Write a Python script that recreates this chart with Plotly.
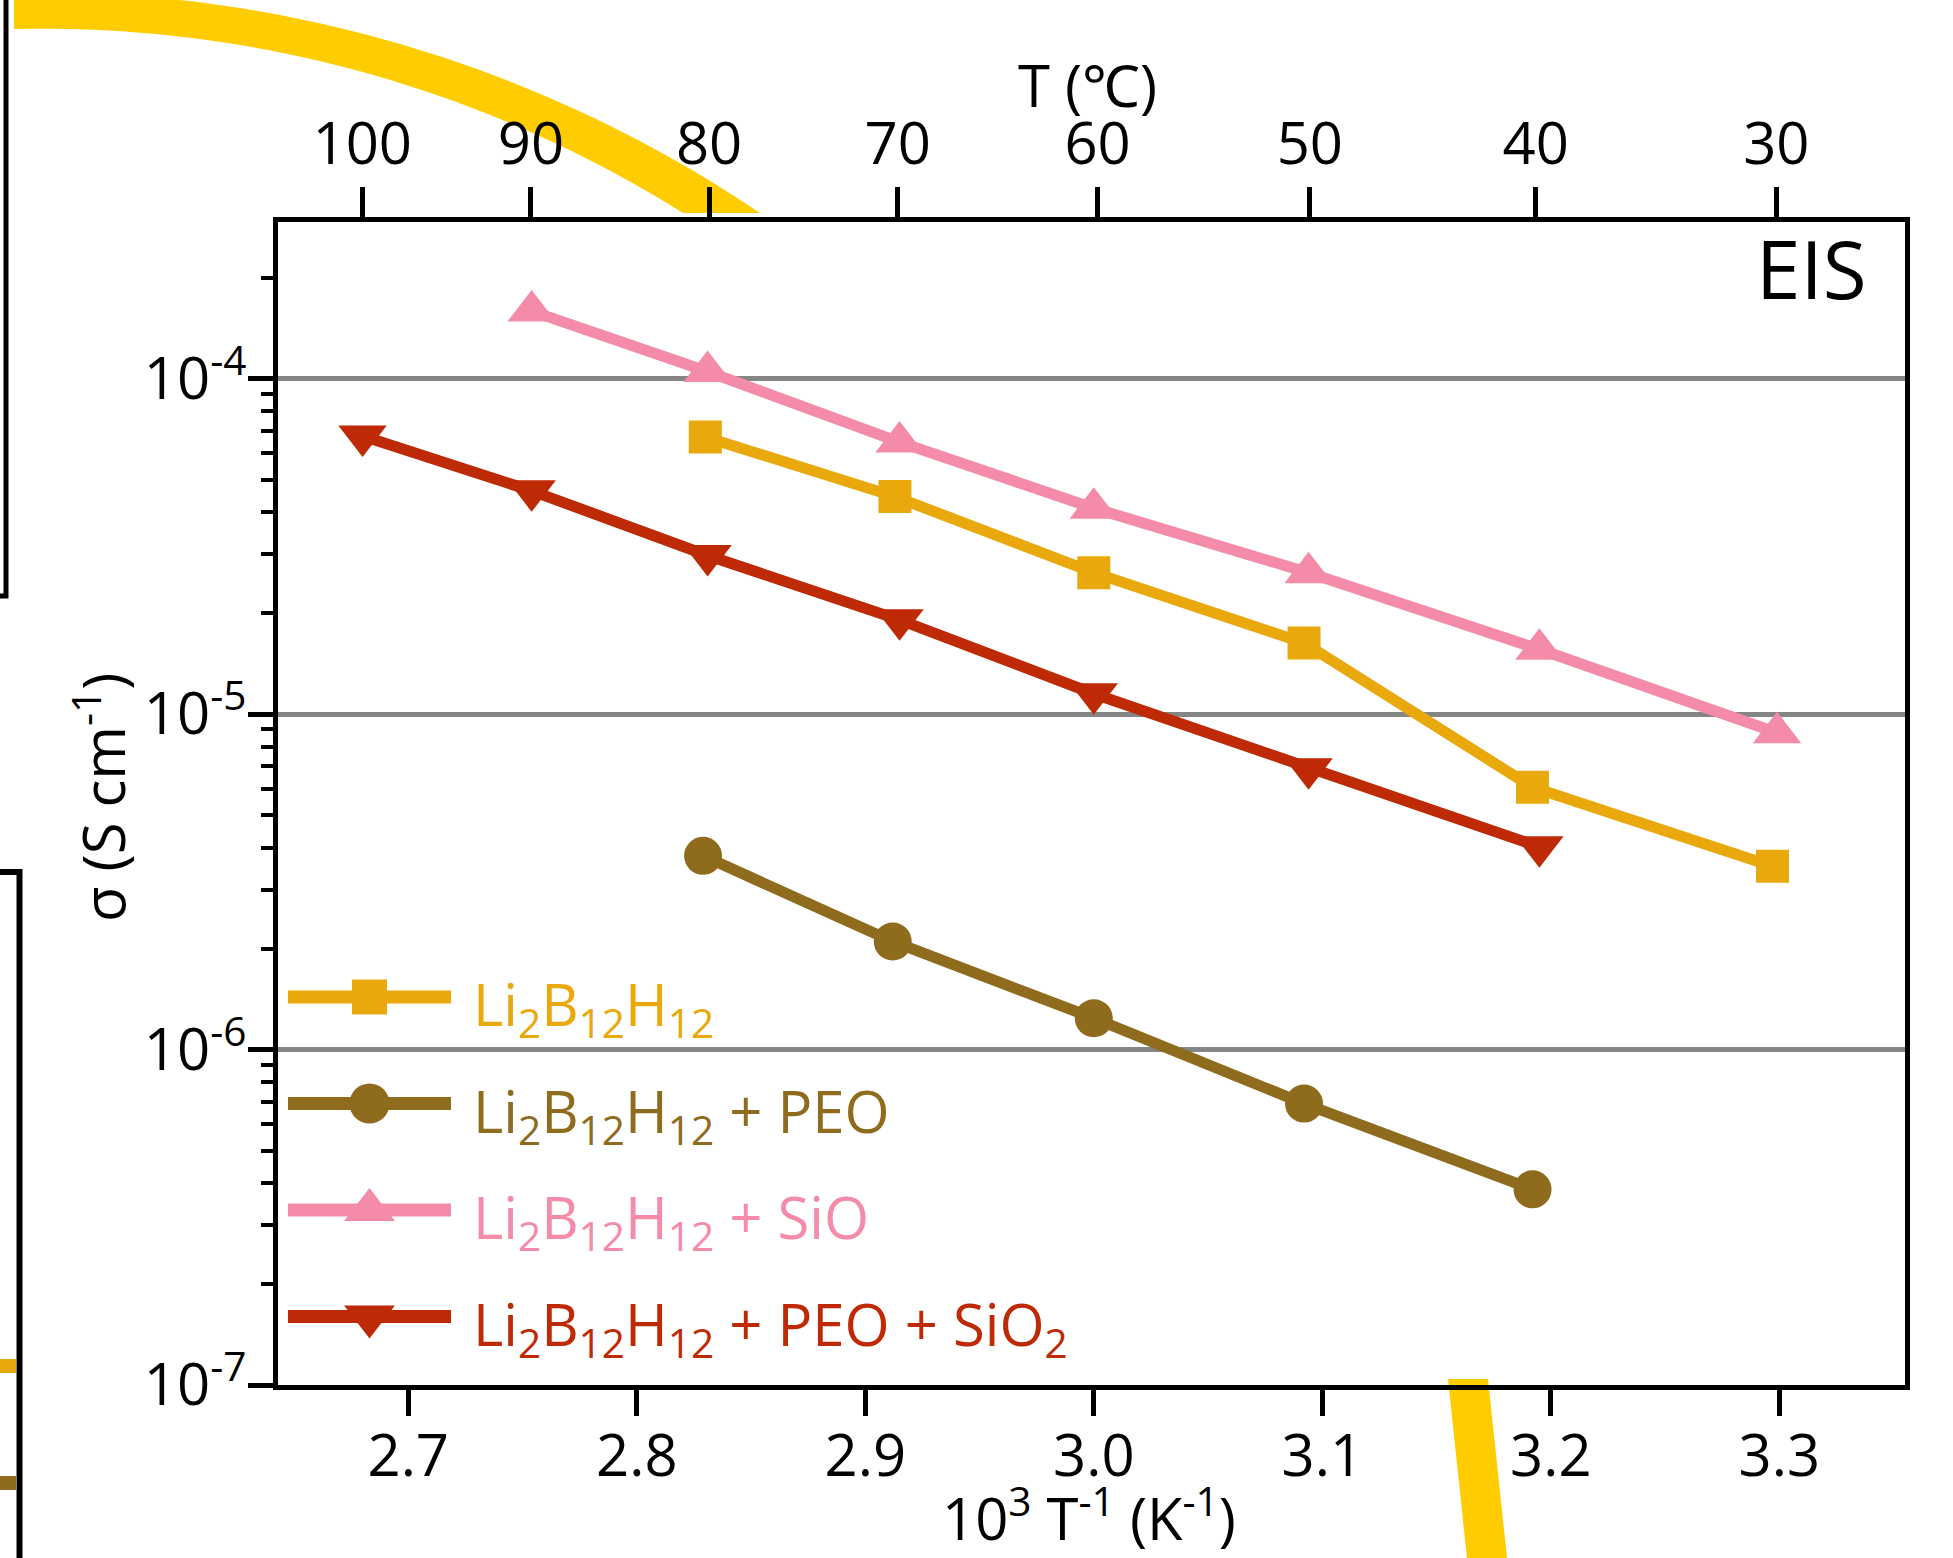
import numpy as np
import plotly.graph_objects as go

# ---------------- data ----------------
T_TOP_C = [100, 90, 80, 70, 60, 50, 40, 30]          # top axis tick labels (deg C)
X_TICKS = [2.7, 2.8, 2.9, 3.0, 3.1, 3.2, 3.3]         # 10^3/T (K^-1)
Y_TICK_EXP = [-7, -6, -5, -4]

x_li = [2.830, 2.913, 3.000, 3.092, 3.192, 3.297]
s_li = [6.70e-5, 4.45e-5, 2.64e-5, 1.63e-5, 6.05e-6, 3.52e-6]

x_peo = [2.829, 2.912, 3.000, 3.092, 3.192]
s_peo = [3.78e-6, 2.10e-6, 1.24e-6, 6.90e-7, 3.83e-7]

x_sio = [2.754, 2.831, 2.915, 3.000, 3.094, 3.195, 3.299]
s_sio = [1.59e-4, 1.05e-4, 6.47e-5, 4.11e-5, 2.64e-5, 1.56e-5, 8.8e-6]

x_peo_sio2 = [2.680, 2.754, 2.831, 2.915, 3.000, 3.094, 3.195]
s_peo_sio2 = [6.75e-5, 4.63e-5, 2.97e-5, 1.91e-5, 1.15e-5, 6.87e-6, 4.02e-6]

BASE = "Li<sub>2</sub>B<sub>12</sub>H<sub>12</sub>"
names = [BASE, BASE + " + PEO", BASE + " + SiO", BASE + " + PEO + SiO<sub>2</sub>"]
colors = ["#E9A80B", "#8F6B1E", "#F48BA9", "#BF2A06"]
symbols = ["square", "circle", "triangle-up", "triangle-down"]
msizes = [33, 38, 42, 42]
xs = [x_li, x_peo, x_sio, x_peo_sio2]
ys = [s_li, s_peo, s_sio, s_peo_sio2]

X_TITLE = "10<sup>3</sup> T<sup>-1</sup> (K<sup>-1</sup>)"
X2_TITLE = "T (\u2103)"
Y_TITLE = "\u03c3 (S cm<sup>-1</sup>)"

# ---------------- layout constants ----------------
FIG_W, FIG_H = 1953, 1558
M_L, M_R, M_T, M_B = 278, 48, 222, 173
PW = FIG_W - M_L - M_R
PH = FIG_H - M_T - M_B
FONT = "Open Sans"
FS = 58
X_RANGE = [2.643, 3.355]
Y_RANGE = [-7, -3.533]


def px(xp):
    return (xp - M_L) / PW


def py(yp):
    return (FIG_H - M_B - yp) / PH


def to_path(pts, close=True):
    s = "M " + " L ".join(f"{px(a):.5f},{py(b):.5f}" for a, b in pts)
    return s + (" Z" if close else "")


def circ3(p1, p2, p3):
    (x1, y1), (x2, y2), (x3, y3) = p1, p2, p3
    A = np.array([[x2 - x1, y2 - y1], [x3 - x2, y3 - y2]], float)
    b = 0.5 * np.array([x2**2 - x1**2 + y2**2 - y1**2, x3**2 - x2**2 + y3**2 - y2**2])
    c = np.linalg.solve(A, b)
    return c, np.hypot(x1 - c[0], y1 - c[1])


def arc_pts(p_start, p_mid, p_end, n=40):
    c, r = circ3(p_start, p_mid, p_end)
    a0 = np.arctan2(p_start[1] - c[1], p_start[0] - c[0])
    a1 = np.arctan2(p_end[1] - c[1], p_end[0] - c[0])
    a = np.linspace(a0, a1, n)
    return list(zip(c[0] + r * np.cos(a), c[1] + r * np.sin(a)))


fig = go.Figure()

for i in range(4):
    fig.add_trace(go.Scatter(
        x=xs[i], y=ys[i], mode="lines+markers", name=names[i],
        line=dict(color=colors[i], width=11),
        marker=dict(symbol=symbols[i], size=msizes[i], color=colors[i], line=dict(width=0)),
        showlegend=False, hoverinfo="skip"))

# dummy trace to register the top temperature axis
fig.add_trace(go.Scatter(x=[], y=[], xaxis="x2", yaxis="y", showlegend=False, hoverinfo="skip"))

# ---------------- custom legend (pixel-unit overlay axes) ----------------
LEG_X0, LEG_X1, LEG_TX = 288, 451, 471
LEG_Y0, LEG_DY = 997, 106.5
annotations = []
for i in range(4):
    yrow = LEG_Y0 + i * LEG_DY
    fig.add_trace(go.Scatter(x=[LEG_X0, LEG_X1], y=[yrow, yrow], mode="lines",
                             line=dict(color=colors[i], width=13),
                             xaxis="x3", yaxis="y3", showlegend=False, hoverinfo="skip"))
    fig.add_trace(go.Scatter(x=[(LEG_X0 + LEG_X1) / 2], y=[yrow], mode="markers",
                             marker=dict(symbol=symbols[i], size=msizes[i] + 2, color=colors[i],
                                         line=dict(width=0)),
                             xaxis="x3", yaxis="y3", showlegend=False, hoverinfo="skip"))
    annotations.append(dict(x=LEG_TX, y=yrow + 10, xref="x3", yref="y3", text=names[i],
                            xanchor="left", yanchor="middle", showarrow=False,
                            font=dict(family=FONT, size=FS, color=colors[i])))

annotations.append(dict(x=px(1869), y=py(268), xref="paper", yref="paper", text="EIS",
                        xanchor="right", yanchor="middle", showarrow=False,
                        font=dict(family=FONT, size=80, color="black")))
# axis titles placed as annotations for exact positioning
annotations.append(dict(x=px(1087), y=py(85), xref="paper", yref="paper", text=X2_TITLE,
                        xanchor="center", yanchor="middle", showarrow=False,
                        font=dict(family=FONT, size=FS, color="black")))
annotations.append(dict(x=px(1089), y=py(1515), xref="paper", yref="paper", text=X_TITLE,
                        xanchor="center", yanchor="middle", showarrow=False,
                        font=dict(family=FONT, size=FS, color="black")))
annotations.append(dict(x=px(100), y=py(798), xref="paper", yref="paper", text=Y_TITLE,
                        xanchor="center", yanchor="middle", showarrow=False, textangle=-90,
                        font=dict(family=FONT, size=FS, color="black")))

# ---------------- background decorations (cropped neighbouring panels) ----------------
YEL = "#FFCC00"
outer = arc_pts((180, 0), (400, 44), (760, 213))
inner = arc_pts((683, 213), (400, 83), (14, 29))
top_band = [(14, 0)] + outer + inner + [(14, 0)]
bottom_band = [(1448, 1379), (1488, 1379), (1507, 1558), (1467, 1558)]

shapes = [
    dict(type="path", path=to_path(top_band), xref="paper", yref="paper",
         fillcolor=YEL, line=dict(width=0), layer="below"),
    dict(type="path", path=to_path(bottom_band), xref="paper", yref="paper",
         fillcolor=YEL, line=dict(width=0), layer="below"),
    dict(type="path", path=to_path([(6, -5), (6, 596), (-5, 596)], close=False),
         xref="paper", yref="paper", line=dict(color="black", width=5), layer="below"),
    dict(type="path", path=to_path([(-5, 872), (19.5, 872), (19.5, 1570)], close=False),
         xref="paper", yref="paper", line=dict(color="black", width=6), layer="below"),
    dict(type="line", x0=px(-5), x1=px(16), y0=py(1366), y1=py(1366), xref="paper", yref="paper",
         line=dict(color=colors[0], width=14), layer="below"),
    dict(type="line", x0=px(-5), x1=px(16), y0=py(1483), y1=py(1483), xref="paper", yref="paper",
         line=dict(color=colors[1], width=14), layer="below"),
]

minor_vals = [k * 10.0**e for e in range(-7, -3) for k in range(2, 10) if np.log10(k * 10.0**e) < Y_RANGE[1]]

axis_common = dict(showline=True, linecolor="black", linewidth=5, ticks="outside",
                   tickcolor="black", tickwidth=5, zeroline=False,
                   tickfont=dict(family=FONT, size=FS, color="black"))

fig.update_layout(
    width=FIG_W, height=FIG_H, template="none",
    margin=dict(l=M_L, r=M_R, t=M_T, b=M_B, pad=0),
    paper_bgcolor="white", plot_bgcolor="white",
    font=dict(family=FONT, size=FS, color="black"),
    hovermode=False,
    xaxis=dict(range=X_RANGE, tickvals=X_TICKS, ticktext=[f"{v:.1f}" for v in X_TICKS],
               ticklen=26, showgrid=False, mirror=False, ticklabelstandoff=-10,
               **axis_common),
    xaxis2=dict(range=X_RANGE, overlaying="x", side="top", anchor="y",
                tickvals=[1000.0 / (t + 273.15) for t in T_TOP_C], ticktext=[str(t) for t in T_TOP_C],
                ticklen=30, showgrid=False,
                **axis_common),
    yaxis=dict(type="log", range=Y_RANGE, tickvals=[10.0**e for e in Y_TICK_EXP],
               ticktext=[f"10<sup>{e}</sup>" for e in Y_TICK_EXP],
               ticklen=25, mirror=True, showgrid=True, gridcolor="#858585", gridwidth=5,
               ticklabelstandoff=-10,
               minor=dict(tickvals=minor_vals, ticks="outside", ticklen=12, tickwidth=4,
                          tickcolor="black", showgrid=False),
               **axis_common),
    xaxis3=dict(range=[M_L, FIG_W - M_R], overlaying="x", anchor="y3", visible=False,
                showgrid=False, zeroline=False),
    yaxis3=dict(range=[FIG_H - M_B, M_T], overlaying="y", anchor="x3", visible=False,
                showgrid=False, zeroline=False),
    annotations=annotations,
    shapes=shapes,
)

fig.write_html("out.html", config={"displayModeBar": False},
               post_script="document.body.style.margin='0';document.body.style.overflow='hidden';")
